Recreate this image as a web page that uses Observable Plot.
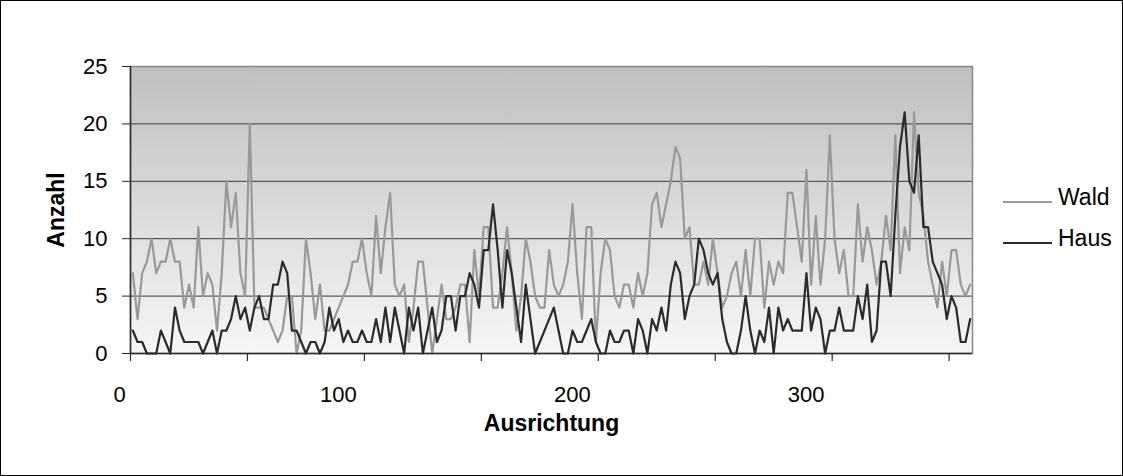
<!DOCTYPE html>
<html><head><meta charset="utf-8">
<script src="https://cdn.jsdelivr.net/npm/d3@7"></script>
<script src="https://cdn.jsdelivr.net/npm/@observablehq/plot@0.6"></script>
<style>
html,body{margin:0;padding:0;background:#fff;}
#wrap{position:relative;width:1123px;height:476px;overflow:hidden;font-family:"Liberation Sans",Arial,sans-serif;}
#frame{position:absolute;left:0;top:0;width:1123px;height:476px;box-sizing:border-box;border:1px solid #000;pointer-events:none;}
.lline{position:absolute;width:49px;height:2px;}
.ltext{position:absolute;font-size:23px;line-height:26px;color:#000;white-space:nowrap;}
</style></head>
<body>
<div id="wrap"><div id="frame"></div></div>
<script>
// Categories: orientation (centre of each 2° class)
const ausrichtung = [1,3,5,7,9,11,13,15,17,19,21,23,25,27,29,31,33,35,37,39,41,43,45,47,49,51,53,55,57,59,61,63,65,67,69,71,73,75,77,79,81,83,85,87,89,91,93,95,97,99,101,103,105,107,109,111,113,115,117,119,121,123,125,127,129,131,133,135,137,139,141,143,145,147,149,151,153,155,157,159,161,163,165,167,169,171,173,175,177,179,181,183,185,187,189,191,193,195,197,199,201,203,205,207,209,211,213,215,217,219,221,223,225,227,229,231,233,235,237,239,241,243,245,247,249,251,253,255,257,259,261,263,265,267,269,271,273,275,277,279,281,283,285,287,289,291,293,295,297,299,301,303,305,307,309,311,313,315,317,319,321,323,325,327,329,331,333,335,337,339,341,343,345,347,349,351,353,355,357,359];
const wald = [7,3,7,8,10,7,8,8,10,8, 8,4,6,4,11,5,7,6,2,7, 15,11,14,7,5,20,4,4,4,3, 2,1,2,5,5,0,2,10,7,3, 6,2,2,3,4,5,6,8,8,10, 7,5,12,7,11,14,6,5,6,1, 4,8,8,4,0,3,6,3,3,4, 6,6,1,9,5,11,11,4,4,7, 11,7,2,5,10,8,5,4,4,9, 6,5,6,8,13,7,3,11,11,1, 7,10,9,5,4,6,6,4,7,5, 7,13,14,11,13,15,18,17,10,11, 6,6,8,6,10,7,4,5,7,8, 5,9,5,10,10,4,8,6,8,7, 14,14,11,8,16,6,12,6,10,19, 10,7,9,5,5,13,8,11,9,6, 8,12,9,19,7,11,9,21,14,12, 8,6,4,8,5,9,9,6,5,6];
const haus = [2,1,1,0,0,0,2,1,0,4, 2,1,1,1,1,0,1,2,0,2, 2,3,5,3,4,2,4,5,3,3, 6,6,8,7,2,2,1,0,1,1, 0,1,4,2,3,1,2,1,1,2, 1,1,3,1,4,1,4,2,0,4, 2,4,0,2,4,1,2,5,5,2, 5,5,7,6,4,9,9,13,9,4, 9,7,4,1,6,3,0,1,2,3, 4,2,0,0,2,1,1,2,3,1, 0,0,2,1,1,2,2,0,3,2, 0,3,2,4,2,6,8,7,3,5, 6,10,9,7,6,7,3,1,0,0, 2,5,2,0,2,1,4,0,4,2, 3,2,2,2,7,2,4,3,0,2, 2,4,2,2,2,5,3,6,1,2, 8,8,5,12,18,21,15,14,19,11, 11,8,7,6,3,5,4,1,1,3];
const seriesNames = ["Wald", "Haus"];
const seriesColors = ["#999999", "#2b2b2b"];
const yTicks = [0,5,10,15,20,25];
const yGrid = [5,10,15,20];
const xTickMarks = [0,50,100,150,200,250,300,350];
const xTickLabels = [0,100,200,300];
const xDomain = [0,360];
const yDomain = [0,25];
const xTitle = "Ausrichtung";
const yTitle = "Anzahl";

const rows = [];
ausrichtung.forEach((a, i) => {
  rows.push({a, n: wald[i], s: seriesNames[0]});
});
ausrichtung.forEach((a, i) => {
  rows.push({a, n: haus[i], s: seriesNames[1]});
});

function background(index, scales) {
  const x0 = scales.x(xDomain[0]), x1 = scales.x(xDomain[1]);
  const y0 = scales.y(yDomain[0]), y1 = scales.y(yDomain[1]);
  const g = d3.create("svg:g");
  const lg = g.append("defs").append("linearGradient")
    .attr("id","bgGrad").attr("x1",0).attr("y1",0).attr("x2",0).attr("y2",1);
  lg.append("stop").attr("offset","0%").attr("stop-color","#bfbfbf");
  lg.append("stop").attr("offset","100%").attr("stop-color","#f6f6f6");
  g.append("rect").attr("x",x0).attr("y",y1).attr("width",x1-x0).attr("height",y0-y1).attr("fill","url(#bgGrad)");
  return g.node();
}

const chart = Plot.plot({
  width: 1123,
  height: 476,
  marginLeft: 130,
  marginRight: 151,
  marginTop: 66,
  marginBottom: 123,
  style: {fontFamily: '"Liberation Sans", Arial, sans-serif', fontSize: "22px", color: "#000", background: "transparent", overflow: "visible"},
  x: {type: "linear", domain: xDomain, axis: null},
  y: {domain: yDomain, axis: null},
  color: {domain: seriesNames, range: seriesColors},
  marks: [
    background,
    Plot.ruleY(yGrid, {stroke: "#3a3a3a", strokeWidth: 1}),
    Plot.frame({stroke: "#888888", strokeWidth: 1.5}),
    Plot.lineY(rows, {x: "a", y: "n", z: "s", stroke: "s", strokeWidth: 2.2, strokeLinejoin: "round"}),
    Plot.ruleX([xDomain[0]], {stroke: "#2b2b2b", strokeWidth: 1.5}),
    Plot.ruleY([yDomain[0]], {stroke: "#2b2b2b", strokeWidth: 1.5}),
    Plot.axisY(yTicks, {tickSize: 8, tickPadding: 15, label: null, stroke: "#2b2b2b", fontSize: 22}),
    Plot.ruleX(xTickMarks, {y1: yDomain[0], y2: yDomain[0], insetBottom: -8, stroke: "#2b2b2b", strokeWidth: 1.2}),
    Plot.axisX(xTickLabels.filter(d => d > 0), {tickSize: 0, tickPadding: 33, dx: -26, label: null, fontSize: 22}),
    Plot.axisX(xTickLabels.filter(d => d === 0), {tickSize: 0, tickPadding: 33, dx: -11, label: null, fontSize: 22}),
    Plot.text([yTitle], {text: d => d, frameAnchor: "left", dx: -74, rotate: -90, textAnchor: "middle", lineAnchor: "middle", fontWeight: "bold", fontSize: 23}),
    Plot.text([xTitle], {text: d => d, frameAnchor: "bottom", dy: 70, textAnchor: "middle", lineAnchor: "middle", fontWeight: "bold", fontSize: 23})
  ]
});
chart.style.position = "absolute";
chart.style.left = "0px";
chart.style.top = "0px";
const wrap = document.getElementById("wrap");
wrap.insertBefore(chart, wrap.firstChild);

// Legend (HTML, to the right of the plot)
const legendTop = [201, 242];
seriesNames.forEach((name, i) => {
  const line = document.createElement("div");
  line.className = "lline";
  line.style.left = "1003px";
  line.style.top = legendTop[i] + "px";
  line.style.background = seriesColors[i];
  wrap.appendChild(line);
  const t = document.createElement("div");
  t.className = "ltext";
  t.style.left = "1058px";
  t.style.top = (legendTop[i] - 17) + "px";
  t.textContent = name;
  wrap.appendChild(t);
});
</script>
</body></html>
